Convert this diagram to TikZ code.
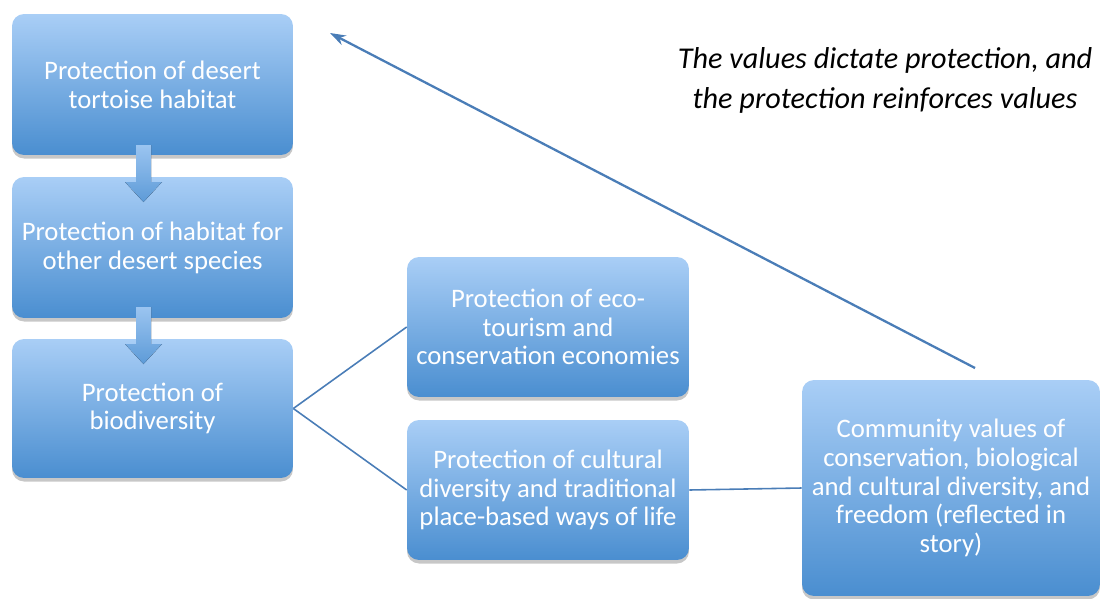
\documentclass[tikz,border=0pt]{standalone}
\usepackage{fontspec}
\setmainfont{Carlito}
\usetikzlibrary{arrows.meta,shadows}
\definecolor{VBTop}{HTML}{A9CEF6}
\definecolor{VBBottom}{HTML}{4A8ED0}
\definecolor{VBLine}{HTML}{4A7DB7}

\tikzset{
  vbox/.style={rounded corners=0.24cm,top color=VBTop,bottom color=VBBottom,
    text=white,align=center,inner sep=0pt,
    font=\fontsize{15.2}{16.4}\selectfont,
    drop shadow={shadow xshift=0pt,shadow yshift=-2pt,opacity=.22,fill=black}},
  vdown/.style={top color=VBTop!85!VBBottom,bottom color=VBBottom!80!VBTop},
  vlink/.style={VBLine,line width=0.9pt},
}

\begin{document}
\begin{tikzpicture}[x=0.02cm,y=-0.02cm]
\path[use as bounding box] (0,0) rectangle (1101,598);
% left column
\node[vbox,minimum width=5.62cm,minimum height=2.82cm] (tort) at (152.5,84.5) {Protection of desert\\tortoise habitat};
\node[vbox,minimum width=5.62cm,minimum height=2.82cm] (other) at (152.5,247.5) {Protection of habitat for\\other desert species};
\node[vbox,minimum width=5.62cm,minimum height=2.78cm] (bio) at (152.5,408.5) {Protection of\\biodiversity};
% block arrows down the column
\foreach \y in {145,307}
  \fill[vdown] (143.5,\y) ++(-7.5,0) -- ++(15,0) -- ++(0,37) -- ++(11,0)
    -- ++(-18.5,20) -- ++(-18.5,-20) -- ++(11,0) -- cycle;
% middle column
\node[vbox,minimum width=5.64cm,minimum height=2.80cm] (eco) at (548,327) {Protection of eco-\\tourism and\\conservation economies};
\node[vbox,minimum width=5.64cm,minimum height=2.80cm] (cult) at (548,490) {Protection of cultural\\diversity and traditional\\place-based ways of life};
% values
\node[vbox,minimum width=5.96cm,minimum height=4.32cm] (comm) at (951,488) {Community values of\\conservation, biological\\and cultural diversity, and\\freedom (reflected in\\story)};
\draw[vlink] (bio.east) -- (eco.west);
\draw[vlink] (bio.east) -- (cult.west);
\draw[vlink] (cult.east) -- (comm.west);
% feedback arrow
\coordinate (vfrom) at (975,368);
\coordinate (vto) at (330,33);
\draw[vlink,line width=1.3pt,-{Stealth[length=9pt,width=6pt]}] (vfrom) -- (vto);
\node[align=center,font=\itshape\fontsize{17.2}{22.8}\selectfont] (note) at (885,80) {The values dictate protection, and\\the protection reinforces values};
\end{tikzpicture}
\end{document}
